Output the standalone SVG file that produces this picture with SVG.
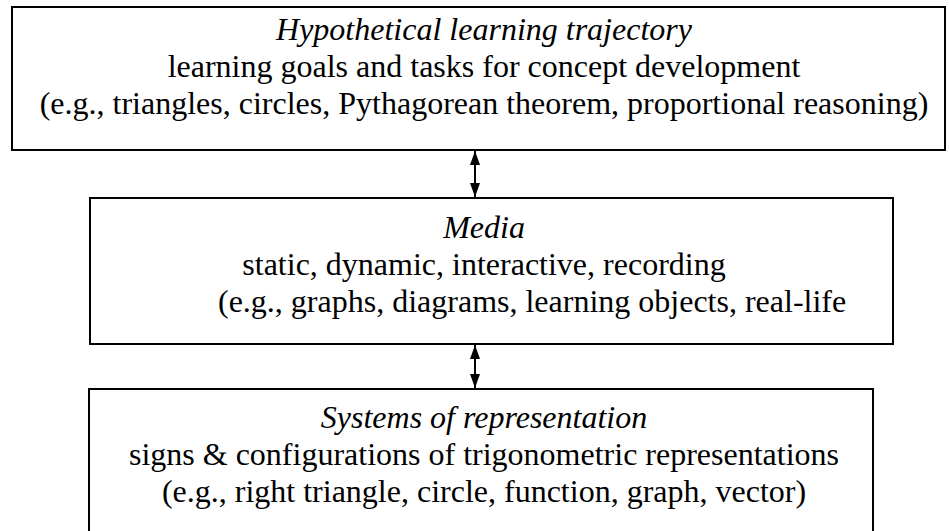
<svg xmlns="http://www.w3.org/2000/svg" width="949" height="531" viewBox="0 0 949 531">
<defs>
<style>
.box{fill:#fff;stroke:#000;stroke-width:2}
.t{font-family:'Liberation Serif','Times New Roman',serif;font-size:32px;fill:#000;text-anchor:middle}
.i{font-style:italic}
.c{stroke:#000;stroke-width:2;fill:none}
</style>
<marker id="ah" viewBox="0 0 14 10" refX="14" refY="5" markerWidth="14" markerHeight="10" markerUnits="userSpaceOnUse" orient="auto-start-reverse">
<path d="M0,0 L14,5 L0,10 Z" fill="#000"/>
</marker>
</defs>
<rect width="949" height="531" fill="#fff"/>
<g id="node-hlt">
<rect class="box" x="12" y="7" width="933" height="143"/>
<text class="t i" x="484" y="40">Hypothetical learning trajectory</text>
<text class="t" x="484" y="77">learning goals and tasks for concept development</text>
<text class="t" x="484" y="114">(e.g., triangles, circles, Pythagorean theorem, proportional reasoning)</text>
</g>
<g id="node-media">
<rect class="box" x="90" y="198" width="803" height="146"/>
<text class="t i" x="484" y="238">Media</text>
<text class="t" x="484" y="275">static, dynamic, interactive, recording</text>
<text class="t" x="218" y="312" style="text-anchor:start">(e.g., graphs, diagrams, learning objects, real-life</text>
</g>
<g id="node-systems">
<rect class="box" x="89" y="389" width="784" height="160"/>
<text class="t i" x="484" y="428">Systems of representation</text>
<text class="t" x="484" y="465">signs &amp; configurations of trigonometric representations</text>
<text class="t" x="484" y="502">(e.g., right triangle, circle, function, graph, vector)</text>
</g>
<g id="connectors">
<line class="c" x1="475" y1="151" x2="475" y2="197" marker-start="url(#ah)" marker-end="url(#ah)"/>
<line class="c" x1="475" y1="345" x2="475" y2="388" marker-start="url(#ah)" marker-end="url(#ah)"/>
</g>
</svg>
